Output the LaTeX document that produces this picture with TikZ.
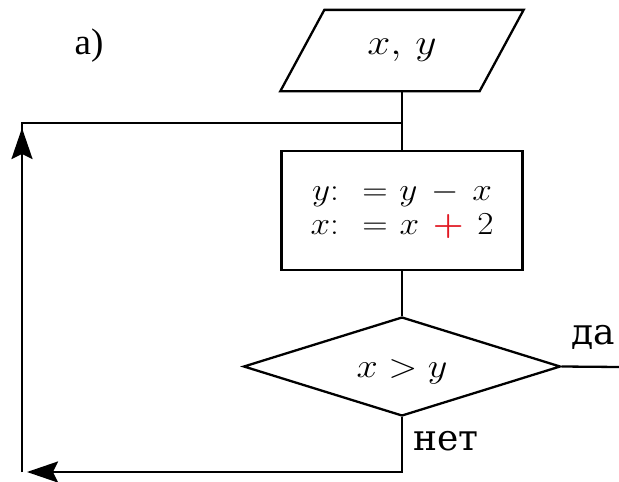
\RequirePackage{fix-cm}
\documentclass[tikz,border=0pt]{standalone}
\usepackage{fontspec}
\usepackage{graphicx}
\setmainfont{Liberation Serif}
\newfontfamily\cyrfont{DejaVu Serif}
\usetikzlibrary{arrows.meta,shapes.geometric}
\definecolor{plusred}{RGB}{225,25,35}
\newcommand{\redplus}{\mathbin{\textcolor{plusred}{\mbox{\boldmath$+$}}}}
\begin{document}
\begin{tikzpicture}[x=1pt,y=-1pt,line width=2.3pt,
  blockline/.style={draw=black,line width=2.3pt,inner sep=0pt},
  arr/.style={-{Stealth[length=31pt,width=21pt,inset=5pt]}},
  mathtext/.style={inner sep=0pt},
  lbl/.style={inner sep=0pt,font=\cyrfont\fontsize{36}{40}\selectfont}]
\useasboundingbox (0,0) rectangle (619,482);
% input parallelogram
\node[inner sep=0pt,minimum width=197pt,minimum height=79pt,
      font=\fontsize{36}{40}\selectfont] (inp) at (402,50.5)
  {\scalebox{1.15}[1]{$x,\,y$}};
\draw[line join=miter] ([xshift=-22pt]inp.south west) -- ([xshift=22pt]inp.north west)
  -- ([xshift=22pt]inp.north east) -- ([xshift=-22pt]inp.south east) -- cycle;
% process box
\node[blockline,minimum width=241pt,minimum height=119pt,align=center,
      font=\fontsize{32}{34}\selectfont] (box) at (402,210.5)
  {\scalebox{1.1}[1]{$\thickmuskip=6mu\medmuskip=7mu y{:}\;= y - x$}\\
   \scalebox{1.1}[1]{$\thickmuskip=6mu\medmuskip=7mu x{:}\;= x \redplus 2$}};
% decision diamond
\node[blockline,diamond,minimum width=317pt,minimum height=99pt] (dia) at (402,366.5) {};
\node[mathtext,font=\fontsize{34}{38}\selectfont] (cond) at ([yshift=-5pt]dia.center)
  {\scalebox{1.12}[1]{$x > y$}};
% coordinates
\coordinate (j) at (402,123);
\coordinate (tl) at (22,123);
\coordinate (bl) at (22,472);
\coordinate (yesend) at (619,367);
% connectors
\draw (inp.south) -- (box.north);
\draw (box.south) -- (dia.north);
\draw (dia.east) -- (yesend);
\draw[arr] (dia.south) |- ([xshift=5pt]bl);
\draw (bl) -- (tl) -- (j);
\draw[arr] (bl) -- ([yshift=-5pt]tl);
% labels
\node[lbl] (da) at (593,337) {да};
\node[lbl] (net) at (446,441) {нет};
\node[inner sep=0pt,font=\fontsize{37}{40}\selectfont] (a) at (89,46) {a)};
\end{tikzpicture}
\end{document}
